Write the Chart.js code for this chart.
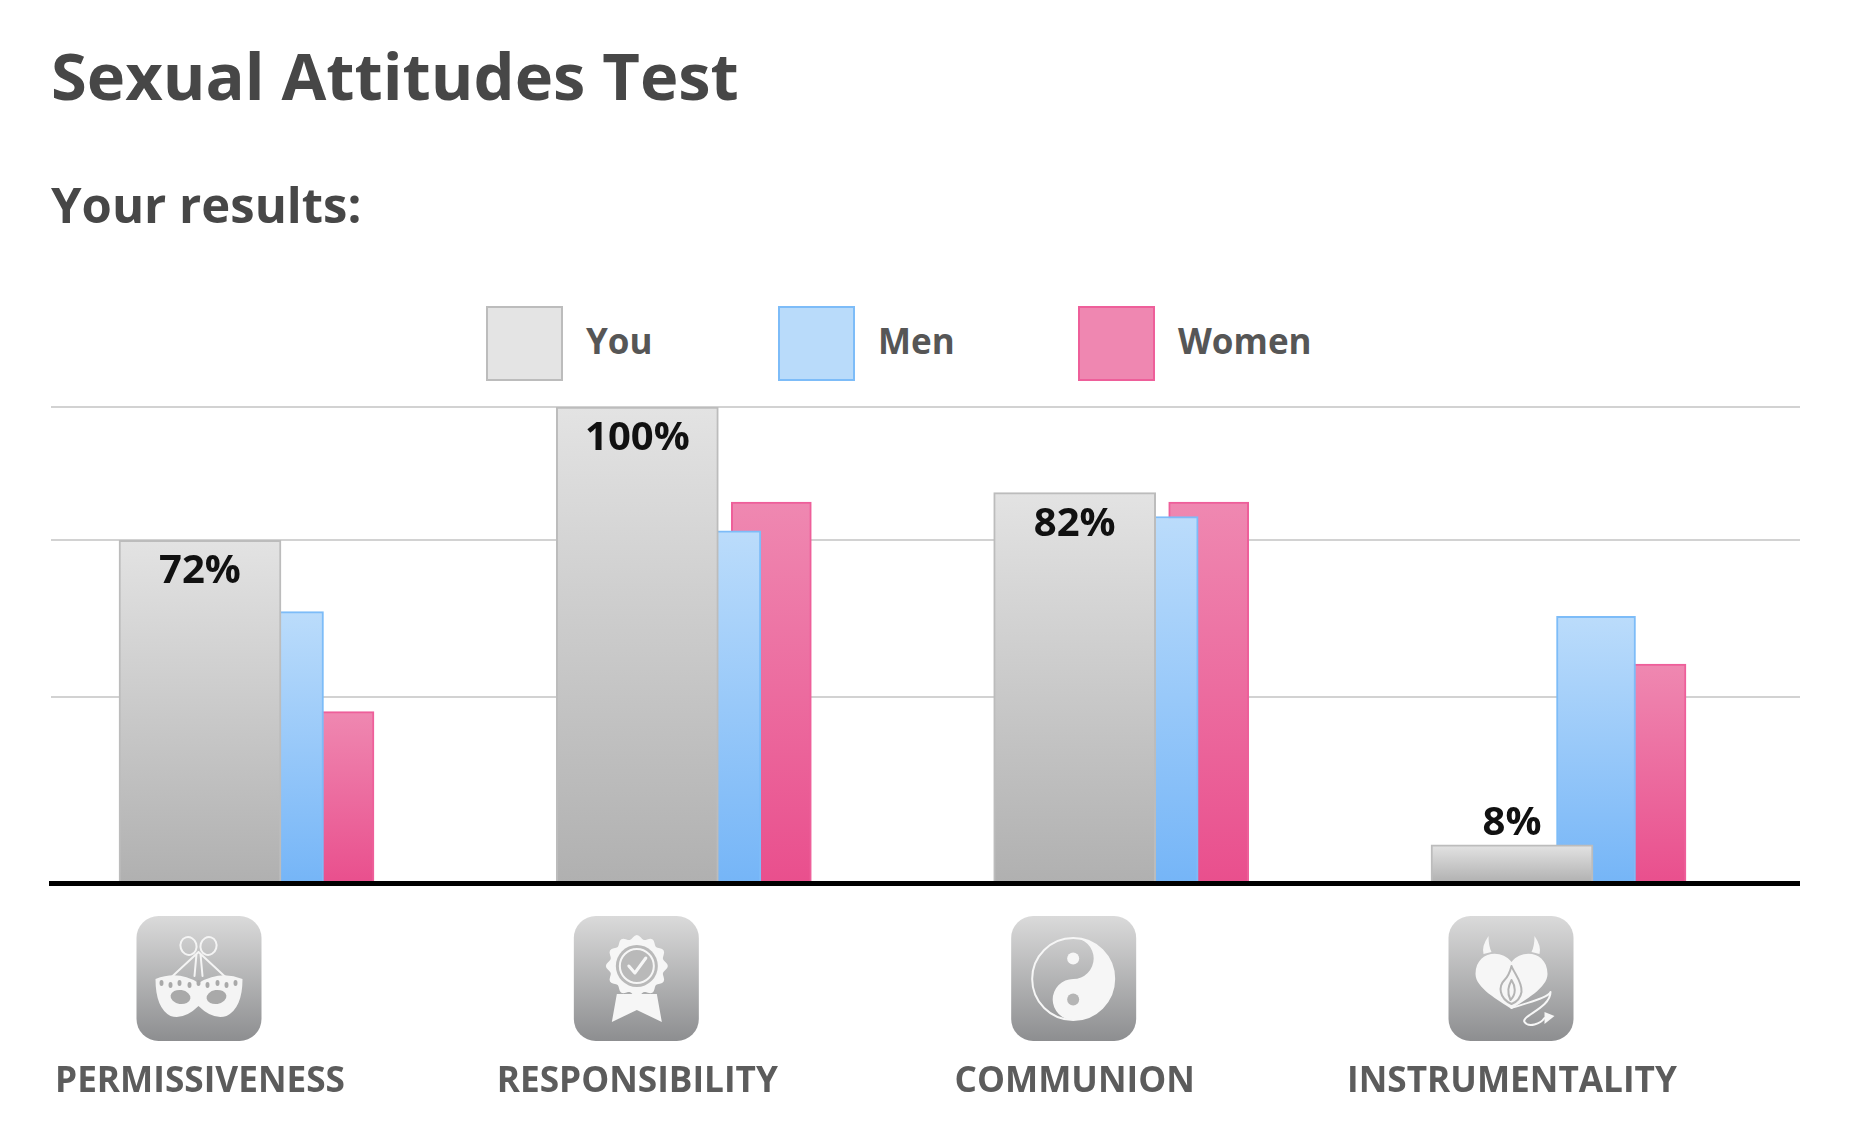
<!DOCTYPE html>
<html><head><meta charset="utf-8">
<style>
html,body{margin:0;padding:0;background:#fff;width:1851px;height:1142px;overflow:hidden;font-family:"Open Sans",sans-serif}
h1,h2{position:absolute;margin:0;color:#474747;font-weight:700;line-height:1;left:51px;white-space:nowrap}
h1{font-size:65px;top:43px}
h2{font-size:49px;top:180px}
#legend{position:absolute;left:0;top:306px;height:75px}
.li{position:absolute;top:0;display:block}
.sw{position:absolute;left:-1px;top:0;width:73px;height:71px;border:2px solid}
.tx{position:absolute;left:99px;top:15px;font-size:35px;line-height:40px;font-weight:700;color:#565656;white-space:nowrap}
#wrap{position:absolute;left:0;top:0;width:1800px;height:1142px}
</style>
<script src="https://cdn.jsdelivr.net/npm/chart.js@4/dist/chart.umd.min.js"></script>
</head><body>
<h1>Sexual Attitudes Test</h1>
<h2>Your results:</h2>
<div id="legend"></div>
<div id="wrap"><canvas id="c" width="1800" height="1142"></canvas></div>
<script>
const categories = ["PERMISSIVENESS","RESPONSIBILITY","COMMUNION","INSTRUMENTALITY"];
const seriesNames = ["You","Men","Women"];
const youValues = [72,100,82,8];
const menValues = [57,74,77,56];
const womenValues = [36,80,80,46];
const gridValues = [0,39,72,100];
const barWidths = [162,79,80];
const barOffsets = [0,84,134];
const legendLefts = [487,779,1079];
const fillTop = ["#e3e3e3","#bbdcfb","#ef88b1"];
const fillBottom = ["#b0b0b0","#75b5f7","#e94f8d"];
const strokes = ["#bcbcbc","#7dbcf8","#ee5f9a"];
const legendFills = ["#e4e4e4","#b9dbfa","#ef87b1"];

const legendEl = document.getElementById('legend');
seriesNames.forEach((n,i)=>{
  const d=document.createElement('div');d.className='li';d.style.left=legendLefts[i]+'px';
  const s=document.createElement('div');s.className='sw';s.style.background=legendFills[i];s.style.borderColor=strokes[i];
  const t=document.createElement('div');t.className='tx';t.textContent=n;
  d.appendChild(s);d.appendChild(t);legendEl.appendChild(d);
});

function barGradient(i){
  return ctx=>{
    const ch=ctx.chart;
    if(!ch.chartArea||ctx.parsed===undefined) return fillTop[i];
    const y=ch.scales.y;
    const g=ch.ctx.createLinearGradient(0,y.getPixelForValue(ctx.parsed.y),0,y.getPixelForValue(0));
    g.addColorStop(0,fillTop[i]);g.addColorStop(1,fillBottom[i]);
    return g;
  };
}
function points(vals){return vals.map((v,i)=>({x:i,y:v}));}
const allSeries=[youValues,menValues,womenValues];

const shiftBars={id:'shiftBars',afterDatasetsUpdate(chart){
  chart.data.datasets.forEach((d,i)=>{
    chart.getDatasetMeta(i).data.forEach(b=>{b.x+=barOffsets[i];});
  });
}};
const valueLabels={id:'valueLabels',afterDatasetsDraw(chart){
  const c=chart.ctx;const meta=chart.getDatasetMeta(0);
  c.save();c.font='700 40px "Open Sans"';c.fillStyle='#111';c.textAlign='center';c.textBaseline='alphabetic';
  meta.data.forEach((b,i)=>{
    const v=youValues[i];
    const inside=v>20;
    c.fillText(v+'%',b.x,inside?b.y+43:b.y-10);
  });
  c.restore();
}};
function rr(c,x,y,w,h,r){c.beginPath();c.roundRect(x,y,w,h,r);}
function maskIcon(c){
  c.strokeStyle='#f4f4f4';c.fillStyle='#f4f4f4';c.lineWidth=2;
  c.beginPath();c.ellipse(52,30,8,9,-0.3,0,7);c.stroke();
  c.beginPath();c.ellipse(72,30,8,9,0.3,0,7);c.stroke();
  c.beginPath();c.moveTo(62,36);c.lineTo(34,62);c.moveTo(62,36);c.lineTo(90,62);c.moveTo(60,38);c.lineTo(58,60);c.moveTo(64,38);c.lineTo(66,60);c.stroke();
  c.beginPath();c.moveTo(19,63);c.quadraticCurveTo(42,54,62,67);c.quadraticCurveTo(84,54,106,63);
  c.quadraticCurveTo(106,92,90,100);c.quadraticCurveTo(76,104,62,90);c.quadraticCurveTo(48,104,34,100);c.quadraticCurveTo(19,92,19,63);c.fill();
  c.fillStyle='#a9a9a9';
  c.beginPath();c.ellipse(44,81,10,7,0.15,0,7);c.ellipse(80,81,10,7,-0.15,0,7);c.fill();
  [25,34,43,53,62,71,81,90,99].forEach((x,i)=>{c.beginPath();c.ellipse(x,67+(i%2)*2,2,3,0,0,7);c.fill();});
}
function sealIcon(c){
  c.fillStyle='#f6f6f6';
  c.beginPath();
  for(let k=0;k<=96;k++){const a=k/96*Math.PI*2;const r=29+2*Math.cos(a*12);const x=63+r*Math.cos(a),y=50+r*Math.sin(a);k?c.lineTo(x,y):c.moveTo(x,y);}
  c.fill();
  c.fillStyle='#b9b9b9';c.beginPath();c.arc(63,50,21,0,7);c.fill();
  c.strokeStyle='#f6f6f6';c.lineWidth=2;c.beginPath();c.arc(63,50,17,0,7);c.stroke();
  c.lineWidth=3;c.beginPath();c.moveTo(55,50);c.lineTo(61,57);c.lineTo(72,42);c.stroke();
  c.fillStyle='#f6f6f6';c.beginPath();c.moveTo(43,78);c.lineTo(38,106);c.lineTo(63,94);c.lineTo(88,106);c.lineTo(83,78);c.closePath();c.fill();
}
function yinIcon(c){
  const cx=62,cy=63,r=41;
  c.strokeStyle='#f6f6f6';c.fillStyle='#f6f6f6';c.lineWidth=2;
  c.beginPath();c.arc(cx,cy,r,0,7);c.stroke();
  c.beginPath();c.arc(cx,cy,r,-Math.PI/2,Math.PI/2);c.arc(cx,cy+r/2,r/2,Math.PI/2,-Math.PI/2,false);c.arc(cx,cy-r/2,r/2,Math.PI/2,-Math.PI/2,true);c.closePath();c.fill();
  c.beginPath();c.arc(cx,cy-r/2,6,0,7);c.fill();
  c.fillStyle='#b5b5b5';c.beginPath();c.arc(cx,cy+r/2,6,0,7);c.fill();
}
function heartIcon(c){
  c.fillStyle='#f6f6f6';c.strokeStyle='#ececec';c.lineWidth=2;
  c.beginPath();c.moveTo(63,46);c.bezierCurveTo(52,32,27,36,27,58);c.bezierCurveTo(27,72,50,84,63,93);c.bezierCurveTo(76,84,99,72,99,58);c.bezierCurveTo(99,36,74,32,63,46);c.fill();
  c.beginPath();c.moveTo(35,38);c.quadraticCurveTo(33,30,40,20);c.quadraticCurveTo(40,30,43,36);c.closePath();c.fill();
  c.beginPath();c.moveTo(91,38);c.quadraticCurveTo(93,30,86,20);c.quadraticCurveTo(86,30,83,36);c.closePath();c.fill();
  c.strokeStyle='#b4b4b4';c.lineWidth=2;
  c.beginPath();c.moveTo(63,88);c.bezierCurveTo(50,82,50,70,56,64);c.bezierCurveTo(60,60,62,54,63,50);c.bezierCurveTo(66,58,74,66,73,76);c.bezierCurveTo(72,82,68,86,63,88);c.moveTo(62,84);c.bezierCurveTo(58,76,60,70,63,64);c.bezierCurveTo(67,70,68,78,62,84);c.stroke();
  c.strokeStyle='#f6f6f6';c.lineWidth=2;c.beginPath();c.moveTo(63,92);c.bezierCurveTo(75,88,100,82,102,76);c.moveTo(102,76);c.bezierCurveTo(102,92,72,100,76,106);c.bezierCurveTo(80,112,92,108,96,102);c.stroke();
  c.fillStyle='#f6f6f6';c.beginPath();c.moveTo(96,96);c.lineTo(106,100);c.lineTo(96,108);c.closePath();c.fill();
}
const glyphs=[maskIcon,sealIcon,yinIcon,heartIcon];
const iconSize=125, iconTopGap=33;
const categoryIcons={id:'categoryIcons',afterDraw(chart){
  const c=chart.ctx,sx=chart.scales.x,top=chart.chartArea.bottom+iconTopGap;
  sx.ticks.forEach((t,i)=>{
    const x=sx.getPixelForValue(t.value)-iconSize/2-1;
    c.save();
    const g=c.createLinearGradient(0,top,0,top+iconSize);
    g.addColorStop(0,'#dadada');g.addColorStop(1,'#8d8e90');
    c.fillStyle=g;rr(c,x,top,iconSize,iconSize,22);c.fill();
    c.translate(x,top);c.lineCap='round';c.lineJoin='round';
    glyphs[i](c);
    c.restore();
  });
}};

new Chart(document.getElementById('c'),{
  type:'bar',
  data:{
    labels:categories,
    datasets:seriesNames.map((n,i)=>({
      label:n,
      data:points(allSeries[i]),
      order:i+1,
      barThickness:barWidths[i],
      grouped:false,
      backgroundColor:barGradient(i),
      borderColor:strokes[i],
      borderWidth:2,
      borderSkipped:'bottom'
    }))
  },
  options:{
    responsive:false,animation:false,devicePixelRatio:1,
    layout:{padding:{top:407,left:0,right:0,bottom:0}},
    plugins:{legend:{display:false},title:{display:false},tooltip:{enabled:false}},
    scales:{
      x:{
        type:'linear',min:-0.3407,max:3.6585,offset:false,
        afterBuildTicks:s=>{s.ticks=categories.map((_,i)=>({value:i}));},
        afterFit:s=>{s.height=259;s.paddingLeft=0;s.paddingRight=0;},
        grid:{display:false,drawTicks:false},
        border:{display:true,color:'#000',width:5,z:1},
        ticks:{autoSkip:false,maxRotation:0,minRotation:0,padding:178,color:'#5c5c5c',
          font:{family:'"Open Sans"',weight:'700',size:35.2},
          callback:v=>categories[v]}
      },
      y:{
        min:0,max:100,
        afterBuildTicks:s=>{s.ticks=gridValues.map(v=>({value:v}));},
        afterFit:s=>{s.width=51;},
        grid:{color:'#d2d2d2',lineWidth:2,drawTicks:false},
        border:{display:false},
        ticks:{display:false}
      }
    }
  },
  plugins:[shiftBars,valueLabels,categoryIcons]
});
</script>
</body></html>
